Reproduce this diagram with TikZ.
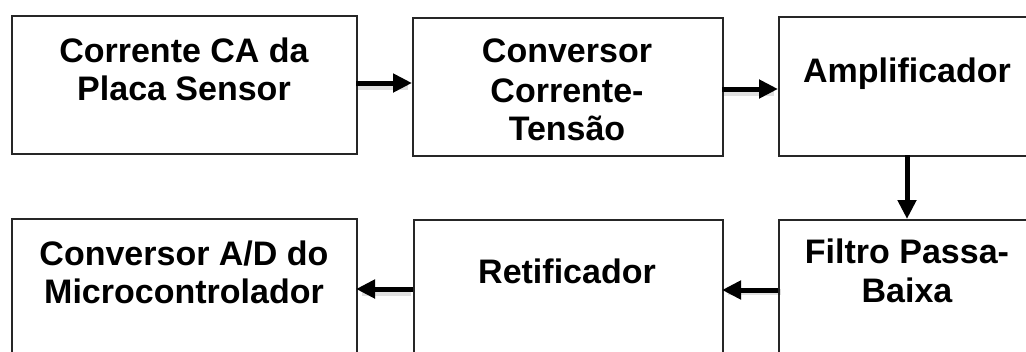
\documentclass[tikz,border=0pt]{standalone}
\usepackage{fontspec}
\setmainfont{Liberation Sans}
\usetikzlibrary{arrows.meta}
\begin{document}
\begin{tikzpicture}[x=1pt,y=-1pt,
  blockbox/.style={draw=black!85,line width=2pt},
  lbl/.style={font=\bfseries\fontsize{34}{39}\selectfont,align=center,anchor=base,inner sep=0pt},
  flow/.style={line width=5pt,-{Triangle[length=19pt,width=18pt]},shorten >=0pt},
  shade/.style={line width=6pt,draw=black,opacity=0.12}]
\useasboundingbox (0,0) rectangle (1026,351);
% boxes
\node[blockbox,minimum width=345pt,minimum height=138pt,inner sep=0pt,anchor=north west] (b1) at (11,15) {};
\node[blockbox,minimum width=310pt,minimum height=138pt,inner sep=0pt,anchor=north west] (b2) at (412,17) {};
\node[blockbox,minimum width=260pt,minimum height=139pt,inner sep=0pt,anchor=north west] (b3) at (778,16) {};
\node[blockbox,minimum width=345pt,minimum height=150pt,inner sep=0pt,anchor=north west] (b4) at (11,218) {};
\node[blockbox,minimum width=309pt,minimum height=150pt,inner sep=0pt,anchor=north west] (b5) at (413,219) {};
\node[blockbox,minimum width=260pt,minimum height=150pt,inner sep=0pt,anchor=north west] (b6) at (778,219) {};
% texts
\node[lbl] (t1a) at (184,62) {Corrente CA da};
\node[lbl] (t1b) at (184,100) {Placa Sensor};
\node[lbl] (t2a) at (567,62) {Conversor};
\node[lbl] (t2b) at (567,102) {Corrente-};
\node[lbl] (t2c) at (567,140) {Tensão};
\node[lbl] (t3) at (907,82) {Amplificador};
\node[lbl] (t4a) at (184,265) {Conversor A/D do};
\node[lbl] (t4b) at (184,303) {Microcontrolador};
\node[lbl] (t5) at (567,283) {Retificador};
\node[lbl] (t6a) at (907,263) {Filtro Passa-};
\node[lbl] (t6b) at (907,302) {Baixa};
% connector anchors
\coordinate (a1s) at (356,83);  \coordinate (a1e) at (412,83);
\coordinate (a2s) at (722,89);  \coordinate (a2e) at (778,89);
\coordinate (a3s) at (907,155); \coordinate (a3e) at (907,219);
\coordinate (a4s) at (778,290); \coordinate (a4e) at (722,290);
\coordinate (a5s) at (413,289); \coordinate (a5e) at (356,289);
% shadows
\draw[shade] ([shift={(2,4)}]a1s) -- ([shift={(-4,4)}]a1e);
\draw[shade] ([shift={(2,4)}]a2s) -- ([shift={(-4,4)}]a2e);
\draw[shade] ([shift={(3,2)}]a4s) -- ([shift={(6,2)}]a4e);
\draw[shade] ([shift={(-2,4)}]a5s) -- ([shift={(6,4)}]a5e);
% arrows
\draw[flow] (a1s) -- (a1e);
\draw[flow] (a2s) -- (a2e);
\draw[flow] (a3s) -- (a3e);
\draw[flow] (a4s) -- (a4e);
\draw[flow] (a5s) -- (a5e);
\end{tikzpicture}
\end{document}
